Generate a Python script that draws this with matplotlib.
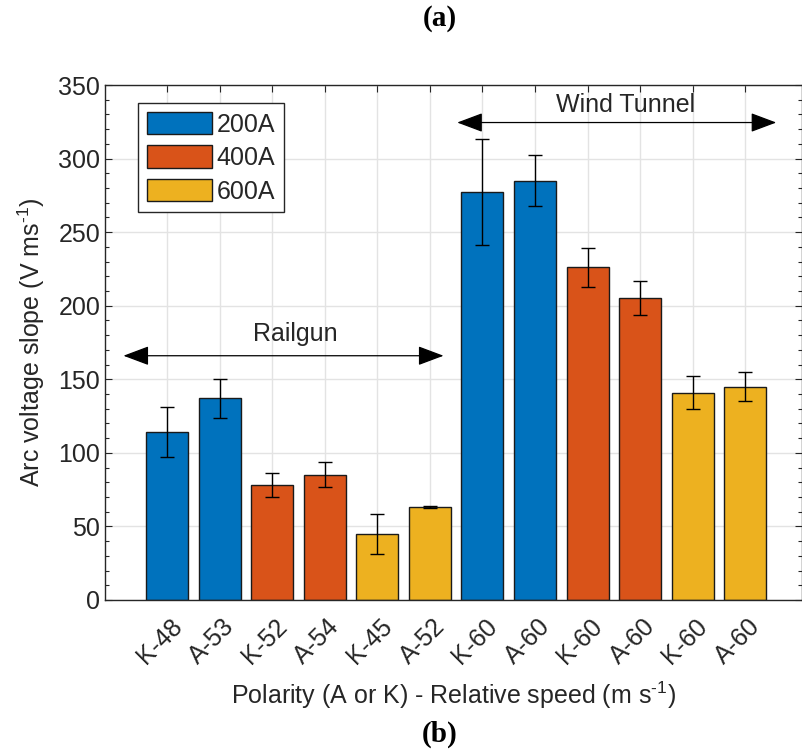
import matplotlib
matplotlib.use("Agg")
import matplotlib.pyplot as plt
import matplotlib.transforms as mtransforms
import numpy as np
from matplotlib.patches import Patch
from matplotlib.ticker import MultipleLocator

plt.rcParams['font.family'] = ['Liberation Sans', 'DejaVu Sans']
plt.rcParams['mathtext.fontset'] = 'custom'
plt.rcParams['mathtext.rm'] = 'Liberation Sans'
plt.rcParams['mathtext.it'] = 'Liberation Sans:italic'

# ---- data ----
tick_labels = ['K-48', 'A-53', 'K-52', 'A-54', 'K-45', 'A-52',
               'K-60', 'A-60', 'K-60', 'A-60', 'K-60', 'A-60']
values = [114, 137, 78, 85, 45, 63, 277, 285, 226, 205, 141, 145]
errors = [17, 13.5, 8, 8.5, 13.5, 0.6, 36, 17.5, 13.5, 11.5, 11, 9.8]
currents = ['200A', '200A', '400A', '400A', '600A', '600A',
            '200A', '200A', '400A', '400A', '600A', '600A']
legend_labels = ['200A', '400A', '600A']
colors = {'200A': '#0072BD', '400A': '#D95319', '600A': '#EDB120'}

fig = plt.figure(figsize=(8.03, 7.51), dpi=100)
ax = fig.add_axes([0.1308, 0.2011, 0.8680, 0.6857])

x = np.arange(1, len(values) + 1)
axis_col = '#262626'
ax.bar(x, values, width=0.8, color=[colors[c] for c in currents],
       edgecolor='#1a1a1a', linewidth=1.0, zorder=2)
ax.errorbar(x, values, yerr=errors, fmt='none', ecolor='black',
            elinewidth=1.0, capsize=5, capthick=1.0, zorder=3)

ax.set_xlim(-0.18, 13.08)
ax.set_ylim(0, 350)
ax.set_xticks(x)
ax.yaxis.set_major_locator(MultipleLocator(50))
ax.yaxis.set_minor_locator(MultipleLocator(10))
ax.tick_params(axis='y', labelsize=18, labelcolor=axis_col)
ax.tick_params(which='both', direction='in', top=True, right=True,
               color=axis_col, width=0.8)
ax.tick_params(which='major', length=5)
ax.tick_params(which='minor', length=3)
ax.tick_params(axis='x', which='minor', top=False, bottom=False)
ax.tick_params(axis='x', pad=12)
ax.set_xticklabels(tick_labels, rotation=45, ha='right', va='center',
                   rotation_mode='anchor', fontsize=18, color=axis_col)
offset = mtransforms.ScaledTranslation(11 / 100, -6 / 100, fig.dpi_scale_trans)
for lbl in ax.get_xticklabels():
    lbl.set_transform(lbl.get_transform() + offset)
ax.grid(True, which='major', color='#e3e3e3', linewidth=1.0, zorder=0)
ax.set_axisbelow(True)
for s in ax.spines.values():
    s.set_color(axis_col)
    s.set_linewidth(1.0)

ax.set_ylabel(r'Arc voltage slope (V ms$^{\text{-1}}$)', fontsize=18, color=axis_col, labelpad=8)
ax.set_xlabel(r'Polarity (A or K) - Relative speed (m s$^{\text{-1}}$)', fontsize=18,
              color=axis_col, labelpad=8)

# annotations
arrow_kw = dict(arrowstyle='<|-|>,head_length=0.8,head_width=0.3',
                color='black', lw=0.9, shrinkA=0, shrinkB=0, mutation_scale=20)
ax.annotate('', xy=(0.17, 166), xytext=(6.26, 166), arrowprops=arrow_kw)
ax.text(3.44, 181, 'Railgun', fontsize=18, color=axis_col, ha='center', va='center')
ax.annotate('', xy=(6.52, 324.5), xytext=(12.59, 324.5), arrowprops=arrow_kw)
ax.text(9.72, 336.5, 'Wind Tunnel', fontsize=18, color=axis_col, ha='center', va='center')

handles = [Patch(facecolor=colors[l], edgecolor='#1a1a1a', linewidth=1.0) for l in legend_labels]
leg = ax.legend(handles, legend_labels, loc='upper left', bbox_to_anchor=(0.047, 0.965),
                fontsize=18, handlelength=2.6, handleheight=1.0, handletextpad=0.2,
                labelspacing=0.35, borderpad=0.35, borderaxespad=0, fancybox=False,
                framealpha=1, edgecolor=axis_col)
leg.get_frame().set_linewidth(1.0)
for t in leg.get_texts():
    t.set_color(axis_col)

fig.text(440 / 803, 1 - 18 / 751, '(a)', fontsize=21, fontweight='bold',
         family='Liberation Serif', ha='center', va='center')
fig.text(440 / 803, 1 - 734 / 751, '(b)', fontsize=21, fontweight='bold',
         family='Liberation Serif', ha='center', va='center')

fig.savefig('out.png', dpi=100)
